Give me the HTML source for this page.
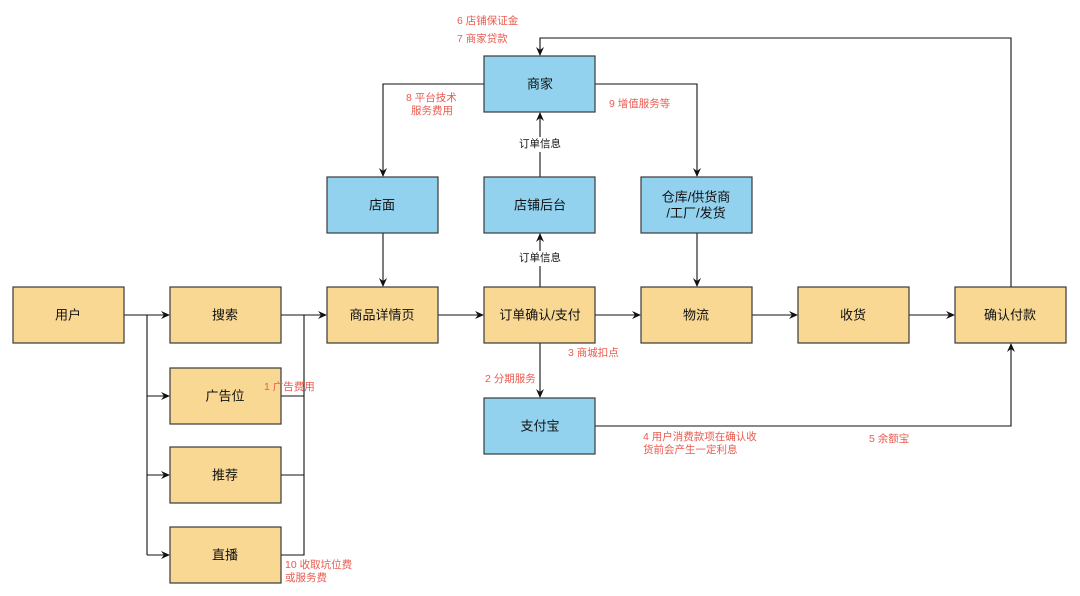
<!DOCTYPE html>
<html><head><meta charset="utf-8"><style>
html,body{margin:0;padding:0;background:#fff;width:1080px;height:596px;overflow:hidden}
svg text{font-family:"Liberation Sans","Noto Sans CJK SC",sans-serif}
.y{fill:#f8d893;stroke:#3a3a3a;stroke-width:1.2}
.b{fill:#92d2ef;stroke:#3a3a3a;stroke-width:1.2}
.t{font-size:13px;fill:#111;text-anchor:middle;dominant-baseline:central}
.r{font-size:10.5px;fill:#ea5a4f}
.k{font-size:10.5px;fill:#111;text-anchor:middle;dominant-baseline:central}
.l{fill:none;stroke:#111;stroke-width:1.1}
</style></head><body>
<svg width="1080" height="596" viewBox="0 0 1080 596">
<defs><marker id="a" markerWidth="10" markerHeight="10" refX="8" refY="5" orient="auto" markerUnits="userSpaceOnUse"><path d="M0,1 L9,5 L0,9 L3,5 Z" fill="#111"/></marker></defs>
<!-- connectors -->
<path class="l" d="M124,315 H169" marker-end="url(#a)"/>
<path class="l" d="M147,315 V555"/>
<path class="l" d="M147,396 H169" marker-end="url(#a)"/>
<path class="l" d="M147,475 H169" marker-end="url(#a)"/>
<path class="l" d="M147,555 H169" marker-end="url(#a)"/>
<path class="l" d="M281,315 H326" marker-end="url(#a)"/>
<path class="l" d="M304,315 V555 H281"/>
<path class="l" d="M281,396 H304 M281,475 H304"/>
<path class="l" d="M438,315 H483" marker-end="url(#a)"/>
<path class="l" d="M595,315 H640" marker-end="url(#a)"/>
<path class="l" d="M752,315 H797" marker-end="url(#a)"/>
<path class="l" d="M909,315 H954" marker-end="url(#a)"/>
<path class="l" d="M484,84 H383 V176" marker-end="url(#a)"/>
<path class="l" d="M595,84 H697 V176" marker-end="url(#a)"/>
<path class="l" d="M383,233 V286" marker-end="url(#a)"/>
<path class="l" d="M697,233 V286" marker-end="url(#a)"/>
<path class="l" d="M540,287 V234" marker-end="url(#a)"/>
<path class="l" d="M540,177 V113" marker-end="url(#a)"/>
<path class="l" d="M540,343 V397" marker-end="url(#a)"/>
<path class="l" d="M595,426 H1011 V344" marker-end="url(#a)"/>
<path class="l" d="M1011,287 V38 H540 V55" marker-end="url(#a)"/>
<!-- boxes -->
<rect class="y" x="13" y="287" width="111" height="56"/><text class="t" x="68" y="315">用户</text>
<rect class="y" x="170" y="287" width="111" height="56"/><text class="t" x="225" y="315">搜索</text>
<rect class="y" x="170" y="368" width="111" height="56"/><text class="t" x="225" y="396">广告位</text>
<rect class="y" x="170" y="447" width="111" height="56"/><text class="t" x="225" y="475">推荐</text>
<rect class="y" x="170" y="527" width="111" height="56"/><text class="t" x="225" y="555">直播</text>
<rect class="y" x="327" y="287" width="111" height="56"/><text class="t" x="382" y="315">商品详情页</text>
<rect class="y" x="484" y="287" width="111" height="56"/><text class="t" x="540" y="315">订单确认/支付</text>
<rect class="y" x="641" y="287" width="111" height="56"/><text class="t" x="696" y="315">物流</text>
<rect class="y" x="798" y="287" width="111" height="56"/><text class="t" x="853" y="315">收货</text>
<rect class="y" x="955" y="287" width="111" height="56"/><text class="t" x="1010" y="315">确认付款</text>
<rect class="b" x="484" y="56" width="111" height="56"/><text class="t" x="540" y="84">商家</text>
<rect class="b" x="327" y="177" width="111" height="56"/><text class="t" x="382" y="205">店面</text>
<rect class="b" x="484" y="177" width="111" height="56"/><text class="t" x="540" y="205">店铺后台</text>
<rect class="b" x="641" y="177" width="111" height="56"/><text class="t" x="696" y="197">仓库/供货商</text><text class="t" x="696" y="213">/工厂/发货</text>
<rect class="b" x="484" y="398" width="111" height="56"/><text class="t" x="540" y="426">支付宝</text>
<!-- labels -->
<rect x="512" y="137" width="56" height="15" fill="#fff"/><text class="k" x="540" y="144">订单信息</text>
<rect x="512" y="251" width="56" height="15" fill="#fff"/><text class="k" x="540" y="258">订单信息</text>
<text class="r" x="457" y="24">6 店铺保证金</text>
<text class="r" x="457" y="42">7 商家贷款</text>
<text class="r" x="406" y="101">8 平台技术</text>
<text class="r" x="411" y="114">服务费用</text>
<text class="r" x="609" y="107">9 增值服务等</text>
<text class="r" x="264" y="390">1 广告费用</text>
<text class="r" x="285" y="568">10 收取坑位费</text>
<text class="r" x="285" y="581">或服务费</text>
<text class="r" x="568" y="356">3 商城扣点</text>
<text class="r" x="485" y="382">2 分期服务</text>
<text class="r" x="643" y="440">4 用户消费款项在确认收</text>
<text class="r" x="643" y="453">货前会产生一定利息</text>
<text class="r" x="869" y="442">5 余额宝</text>
</svg>
</body></html>
